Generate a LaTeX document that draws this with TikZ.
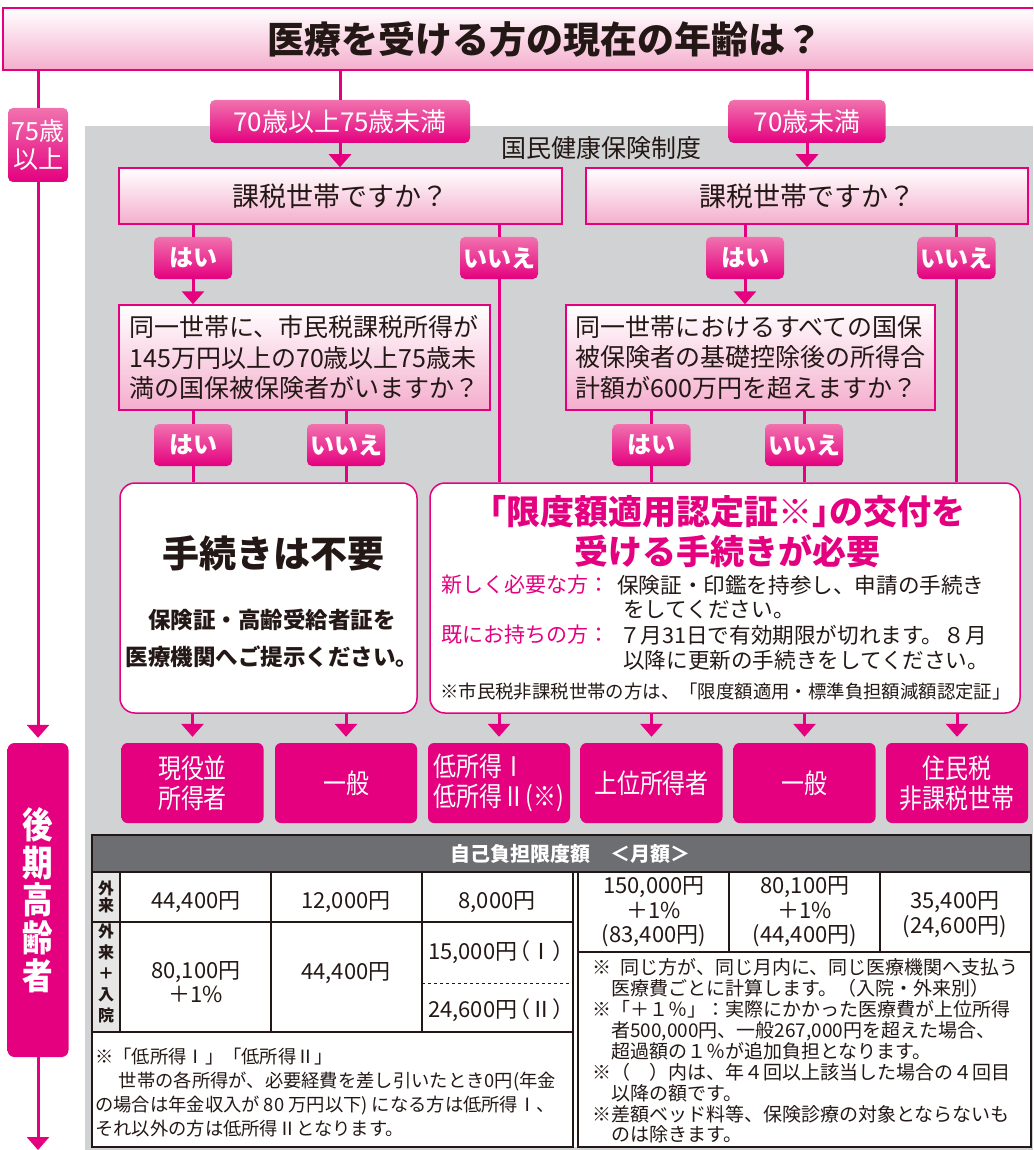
\documentclass[tikz,border=0pt]{standalone}
\usepackage{fontspec}
\newfontfamily\jp{Noto Sans CJK JP}
\newfontfamily\jpc[FakeStretch=0.85]{Noto Sans CJK JP}
\usetikzlibrary{arrows.meta}
\definecolor{mag}{HTML}{E4007F}
\definecolor{ink}{HTML}{231815}
\definecolor{qpink}{HTML}{F4AECD}
\definecolor{labtop}{HTML}{F172AE}
\definecolor{bggray}{HTML}{D1D2D4}
\definecolor{hdgray}{HTML}{6D6E71}
\definecolor{cellgray}{HTML}{E6E6E7}
\definecolor{magdark}{HTML}{A3005A}
\definecolor{maglight}{HTML}{F58DBE}
\pgfdeclareverticalshading{resshade}{100bp}{color(0bp)=(magdark); color(17bp)=(mag); color(82bp)=(mag); color(93bp)=(maglight); color(100bp)=(maglight)}
\pgfdeclarehorizontalshading{kshade}{100bp}{color(0bp)=(mag); color(12bp)=(maglight); color(25bp)=(mag); color(78bp)=(mag); color(100bp)=(magdark)}
\newcommand\jlp{\makebox[0.6em][r]{（}}
\newcommand\jrp{\makebox[0.6em][l]{）}}
\tikzset{
  qbox/.style={draw=mag, line width=1.5pt, top color=white, bottom color=qpink, inner sep=0pt, text=ink},
  lbl/.style={rounded corners=5pt, top color=labtop, bottom color=mag, minimum width=78pt, minimum height=42pt, inner sep=0pt, text=white, font=\jp\bfseries\fontsize{24}{24}\selectfont},
  agelbl/.style={rounded corners=5pt, top color=labtop, bottom color=mag, minimum height=43pt, inner sep=0pt, text=white, font=\jp\fontsize{26}{26}\selectfont},
  bigbox/.style={draw=mag, line width=1.5pt, fill=white, rounded corners=15pt, minimum height=230pt, inner sep=0pt},
  res/.style={shade, shading=resshade, rounded corners=6pt, minimum width=142pt, minimum height=80pt, inner sep=0pt, text=white, align=center, font=\jpc\fontsize{27}{30}\selectfont},
  conn/.style={draw=mag, line width=3pt},
  arr/.style={-{Triangle[width=22pt,length=13pt]}},
  tline/.style={draw=ink, line width=1.2pt},
  tv/.style={text=ink, align=center, inner sep=0pt, font=\jp\fontsize{22}{24.5}\selectfont},
  th/.style={text=ink, align=center, inner sep=0pt},
  bodytxt/.style={anchor=west, inner sep=0pt, text=ink, font=\jp\fontsize{21.6}{24}\selectfont},
  magtxt/.style={anchor=west, inner sep=0pt, text=mag, font=\jp\fontsize{21}{24}\selectfont}
}
\begin{document}
\begin{tikzpicture}[x=1pt,y=-1pt]
\useasboundingbox (0,0) rectangle (1033,1150);
\clip (0,0) rectangle (1033,1150);
\fill[white] (0,0) rectangle (1033,1150);
\fill[bggray] (85,126) rectangle (1033,1150);

% title
\node[qbox, minimum width=1037pt, minimum height=62pt, font=\jp\bfseries\fontsize{37}{37}\selectfont] (title) at (521.5,39) {\hspace*{47pt}医療を受ける方の現在の年齢は？};

% left column
\node[agelbl, minimum width=60pt, minimum height=74pt, align=center, font=\jp\fontsize{25}{28}\selectfont] (age75) at (38,145) {75歳\\以上};
\node[shade, shading=kshade, rounded corners=7pt, minimum width=61pt, minimum height=314pt, inner sep=0pt, text=white, align=center, font=\jpc\bfseries\fontsize{36}{37.7}\selectfont] (kouki) at (38,900) {後\\期\\高\\齢\\者};
\coordinate (bottomend) at (38,1150);

% age labels
\node[agelbl, minimum width=260pt] (a7075) at (340,121.5) {70歳以上75歳未満};
\node[agelbl, minimum width=157pt] (a70) at (807,121.5) {70歳未満};
\node[text=ink, inner sep=0pt, font=\jp\fontsize{25}{25}\selectfont] (kokuho) at (601,148) {国民健康保険制度};

% first questions
\node[qbox, minimum width=443pt, minimum height=56pt, font=\jp\fontsize{27}{27}\selectfont] (q1) at (340.5,196) {課税世帯ですか？};
\node[qbox, minimum width=442pt, minimum height=56pt, font=\jp\fontsize{27}{27}\selectfont] (q2) at (807,196) {課税世帯ですか？};

\node[lbl] (hai1) at (193,258) {はい};
\node[lbl] (iie1) at (499,258) {いいえ};
\node[lbl] (hai2) at (745,258) {はい};
\node[lbl] (iie2) at (956.5,258) {いいえ};

% second questions
\node[qbox, minimum width=371pt, minimum height=105pt, align=left, font=\jp\fontsize{25}{30.5}\selectfont] (q3) at (304.5,357.5) {同一世帯に、市民税課税所得が\\145万円以上の70歳以上75歳未\\満の国保被保険者がいますか？};
\node[qbox, minimum width=369pt, minimum height=105pt, align=left, font=\jp\fontsize{25}{30.5}\selectfont] (q4) at (750.5,357.5) {同一世帯におけるすべての国保\\被保険者の基礎控除後の所得合\\計額が600万円を超えますか？};

\node[lbl] (hai3) at (193,445) {はい};
\node[lbl] (iie3) at (346,445) {いいえ};
\node[lbl] (hai4) at (651.5,445) {はい};
\node[lbl] (iie4) at (804,445) {いいえ};

% big boxes
\node[bigbox, minimum width=297pt] (box1) at (268.5,598) {};
\node[bigbox, minimum width=590pt] (box2) at (725,598) {};

\node[text=ink, inner sep=0pt, font=\jp\bfseries\fontsize{37}{37}\selectfont] (t1) at (273,553) {手続きは不要};
\node[text=ink, inner sep=0pt, align=center, font=\jp\bfseries\fontsize{22.5}{37}\selectfont] (t2) at (272,638.5) {保険証・高齢受給者証を\\医療機関へご提示ください。};

\node[text=mag, inner sep=0pt, align=center, font=\jp\bfseries\fontsize{34}{40}\selectfont] (t3) at (727,532) {\makebox[0.5em][r]{「}限度額適用認定証※\makebox[0.5em][l]{」}の交付を\\受ける手続きが必要};
\node[magtxt] (m1) at (441,585) {新しく必要な方：};
\node[bodytxt] (b1) at (617,585) {保険証・印鑑を持参し、申請の手続き};
\node[bodytxt] (b2) at (623,610) {をしてください。};
\node[magtxt] (m2) at (441,635) {既にお持ちの方：};
\node[bodytxt] (b3) at (619,635) {７月31日で有効期限が切れます。８月};
\node[bodytxt] (b4) at (623,660) {以降に更新の手続きをしてください。};
\node[anchor=west, inner sep=0pt, text=ink, font=\jp\fontsize{18.4}{20}\selectfont] (n1) at (440,692) {※市民税非課税世帯の方は、「限度額適用・標準負担額減額認定証」};

% result boxes
\node[res] (r1) at (192.5,783) {現役並\\所得者};
\node[res] (r2) at (346,783) {一般};
\node[res, align=left] (r3) at (499,783) {低所得Ⅰ\\低所得Ⅱ(※)};
\node[res] (r4) at (651.5,783) {上位所得者};
\node[res] (r5) at (804.5,783) {一般};
\node[res] (r6) at (957,783) {住民税\\非課税世帯};

% connectors
\draw[conn] (title.south -| age75) -- (age75.north);
\draw[conn,arr,shorten >=5pt] (age75.south) -- (kouki.north);
\draw[conn,arr] (kouki.south) -- (bottomend);
\draw[conn] (title.south -| a7075) -- (a7075.north);
\draw[conn,arr] (a7075.south) -- (a7075.south |- q1.north);
\draw[conn] (title.south -| a70) -- (a70.north);
\draw[conn,arr] (a70.south) -- (a70.south |- q2.north);

\draw[conn] (q1.south -| hai1) -- (hai1.north);
\draw[conn,arr] (hai1.south) -- (hai1.south |- q3.north);
\draw[conn] (q1.south -| iie1) -- (iie1.north);
\draw[conn] (iie1.south) -- (iie1.south |- box2.north);
\draw[conn] (q2.south -| hai2) -- (hai2.north);
\draw[conn,arr] (hai2.south) -- (hai2.south |- q4.north);
\draw[conn] (q2.south -| iie2) -- (iie2.north);
\draw[conn] (iie2.south) -- (iie2.south |- box2.north);

\draw[conn] (q3.south -| hai3) -- (hai3.north);
\draw[conn] (hai3.south) -- (hai3.south |- box1.north);
\draw[conn] (q3.south -| iie3) -- (iie3.north);
\draw[conn] (iie3.south) -- (iie3.south |- box1.north);
\draw[conn] (q4.south -| hai4) -- (hai4.north);
\draw[conn] (hai4.south) -- (hai4.south |- box2.north);
\draw[conn] (q4.south -| iie4) -- (iie4.north);
\draw[conn] (iie4.south) -- (iie4.south |- box2.north);

\foreach \r/\b in {r1/box1, r2/box1, r3/box2, r4/box2, r5/box2, r6/box2}
  \draw[conn,arr,shorten >=6pt] (\b.south -| \r) -- (\r.north);

% table
\fill[white] (92,835) rectangle (1031,1147);
\fill[cellgray] (92,872) rectangle (120,1032);
\node[fill=hdgray, draw=ink, line width=1.2pt, minimum width=939pt, minimum height=37pt, inner sep=0pt, text=white, font=\jp\bfseries\fontsize{20}{20}\selectfont] (thead) at (561.5,853.5) {\hspace*{17pt}自己負担限度額　＜月額＞};
\draw[tline] (92,872) rectangle (573,1147);
\draw[tline] (578,872) rectangle (1031,1147);
\draw[tline] (120,872) -- (120,1032);
\draw[tline] (271,872) -- (271,1032);
\draw[tline] (422,872) -- (422,1032);
\draw[tline] (92,922) -- (573,922);
\draw[tline] (92,1032) -- (573,1032);
\draw[draw=ink, line width=0.9pt, dashed] (422,983) -- (573,983);
\draw[tline] (729,872) -- (729,952);
\draw[tline] (880,872) -- (880,952);
\draw[tline] (578,952) -- (1031,952);

\node[th, font=\jp\bfseries\fontsize{16}{17}\selectfont] (h1) at (106,897) {外\\来};
\node[th, font=\jp\bfseries\fontsize{16}{21}\selectfont] (h2) at (106,973) {外\\来\\＋\\入\\院};

\node[tv] (c11) at (196,902) {44,400円};
\node[tv] (c12) at (346,902) {12,000円};
\node[tv] (c13) at (497,902) {8,000円};
\node[tv] (c21) at (196,982) {80,100円\\＋1\%};
\node[tv] (c22) at (346,973) {44,400円};
\node[tv] (c23) at (497,952) {15,000円\jlp Ⅰ\jrp};
\node[tv] (c24) at (497,1010) {24,600円\jlp Ⅱ\jrp};

\node[tv] (c31) at (654,912) {150,000円\\＋1\%\\(83,400円)};
\node[tv] (c32) at (805,912) {80,100円\\＋1\%\\(44,400円)};
\node[tv] (c33) at (955,914.5) {35,400円\\(24,600円)};

\node[anchor=north west, align=left, inner sep=0pt, text=ink, font=\jp\fontsize{19}{20.9}\selectfont] (rnote) at (592,958.5) {※\hspace{0.5em}同じ方が、同じ月内に、同じ医療機関へ支払う\\　医療費ごとに計算します。（入院・外来別）\\※「＋１％」：実際にかかった医療費が上位所得\\　者500,000円、一般267,000円を超えた場合、\\　超過額の１％が追加負担となります。\\※（　）内は、年４回以上該当した場合の４回目\\　以降の額です。\\※差額ベッド料等、保険診療の対象とならないも\\　のは除きます。};

\node[anchor=north west, align=left, inner sep=0pt, text=ink, font=\jp\fontsize{18.3}{24}\selectfont] (lnote) at (95,1048) {※「低所得Ⅰ」「低所得Ⅱ」\\\hspace*{1.3em}世帯の各所得が、必要経費を差し引いたとき0円(年金\\の場合は年金収入が 80 万円以下) になる方は低所得Ⅰ、\\それ以外の方は低所得Ⅱとなります。};
\end{tikzpicture}
\end{document}
